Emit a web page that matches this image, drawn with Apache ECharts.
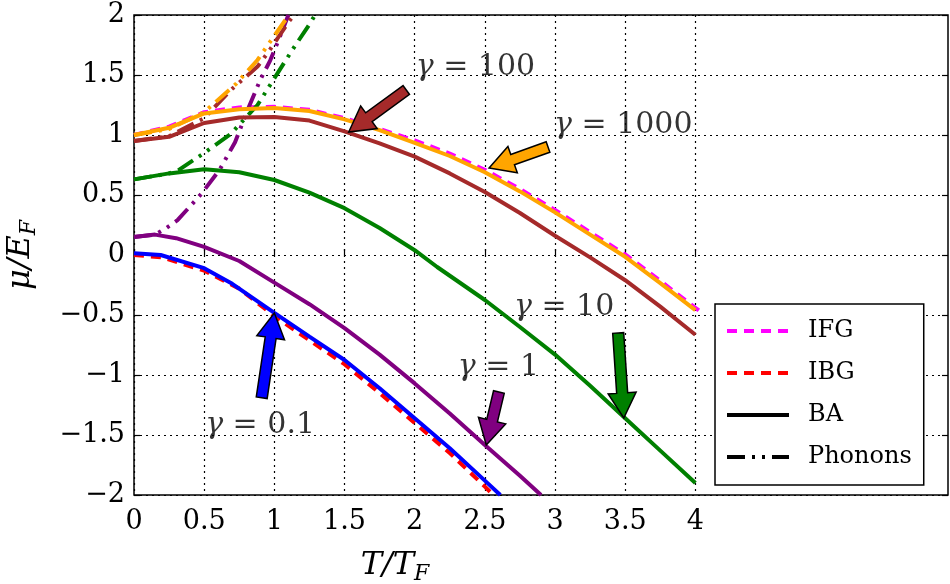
<!DOCTYPE html>
<html>
<head>
<meta charset="utf-8">
<script src="https://cdn.jsdelivr.net/npm/echarts@6/dist/echarts.min.js"></script>
<style>
html, body { margin: 0; padding: 0; background: #fff; }
#chart { width: 950px; height: 584px; }
</style>
</head>
<body>
<div id="chart"></div>
<script>
// tick values
const xTicks = [0, 0.5, 1, 1.5, 2, 2.5, 3, 3.5, 4]
const yTicks = [-2, -1.5, -1, -0.5, 0, 0.5, 1, 1.5, 2]

// ideal gases
const ifg = [[0, 1.0], [0.25, 1.07], [0.5, 1.19], [0.75, 1.23], [1.0, 1.235], [1.25, 1.21], [1.5, 1.14], [1.75, 1.05], [2.0, 0.955], [2.25, 0.845], [2.5, 0.71], [2.75, 0.55], [3.0, 0.375], [3.25, 0.19], [3.5, 0.005], [3.75, -0.215], [4.0, -0.44], [4.05, -0.485]]
const ibg = [[0, 0.0], [0.2, -0.02], [0.5, -0.13], [0.75, -0.28], [1.0, -0.51], [1.25, -0.71], [1.5, -0.91], [1.75, -1.15], [2.0, -1.4], [2.25, -1.65], [2.5, -1.93], [2.56, -2.0]]

// BA curves, one per gamma
const ba01 = [[0, 0.015], [0.19, 0.0], [0.5, -0.11], [0.7, -0.24], [1.0, -0.483], [1.25, -0.68], [1.5, -0.875], [1.75, -1.11], [2.0, -1.36], [2.25, -1.61], [2.5, -1.88], [2.61, -2.0]]
const ba1 = [[0, 0.15], [0.15, 0.17], [0.3, 0.14], [0.5, 0.067], [0.75, -0.05], [1.0, -0.23], [1.25, -0.41], [1.5, -0.61], [1.75, -0.83], [2.0, -1.07], [2.25, -1.32], [2.5, -1.583], [2.75, -1.84], [2.9, -2.0]]
const ba10 = [[0, 0.63], [0.25, 0.68], [0.5, 0.715], [0.75, 0.69], [1.0, 0.625], [1.25, 0.52], [1.5, 0.39], [1.75, 0.225], [2.0, 0.04], [2.16, -0.1], [2.5, -0.375], [2.75, -0.6], [3.0, -0.83], [3.25, -1.09], [3.5, -1.36], [3.75, -1.63], [4.0, -1.9]]
const ba100 = [[0, 0.95], [0.25, 0.985], [0.5, 1.1], [0.75, 1.145], [1.0, 1.15], [1.25, 1.12], [1.5, 1.03], [1.75, 0.93], [2.0, 0.82], [2.25, 0.68], [2.5, 0.525], [2.75, 0.35], [3.0, 0.16], [3.25, -0.02], [3.5, -0.21], [3.75, -0.43], [4.0, -0.665]]
const ba1000 = [[0, 1.0], [0.25, 1.06], [0.5, 1.18], [0.75, 1.215], [1.0, 1.225], [1.25, 1.2], [1.5, 1.13], [1.75, 1.04], [2.0, 0.935], [2.25, 0.825], [2.5, 0.69], [2.75, 0.53], [3.0, 0.355], [3.25, 0.17], [3.5, -0.015], [3.75, -0.235], [4.0, -0.46]]

// phonon approximations
const ph1 = [[0, 0.15], [0.15, 0.17], [0.23, 0.225], [0.31, 0.29], [0.48, 0.51], [0.61, 0.71], [0.72, 0.94], [0.81, 1.21], [0.9, 1.46], [0.97, 1.62], [1.04, 1.82], [1.1, 2.0]]
const ph10 = [[0, 0.63], [0.25, 0.68], [0.32, 0.71], [0.5, 0.85], [0.69, 1.01], [0.88, 1.25], [1.02, 1.51], [1.14, 1.73], [1.26, 1.94], [1.29, 2.0]]
const ph100 = [[0, 0.95], [0.25, 0.99], [0.5, 1.14], [0.69, 1.375], [0.88, 1.57], [0.95, 1.68], [1.02, 1.8], [1.1, 1.94], [1.14, 2.0]]
const ph1000 = [[0, 1.0], [0.25, 1.05], [0.5, 1.19], [0.73, 1.43], [0.88, 1.625], [0.99, 1.81], [1.08, 1.96], [1.1, 2.0]]

// annotations: [x, y, label] (label left edge, vertically centred)
const gammaLabels = [[2.007, 1.567, '100'], [2.993, 1.083, '1000'], [2.707, -0.433, '10'], [2.307, -0.933, '1'], [0.507, -1.417, '0.1']]
// arrows: [tailX, tailY, tipX, tipY]
const arrows = [[1.94, 1.375, 1.53, 1.025], [2.95, 0.9, 2.53, 0.725], [0.91, -1.19, 1.0, -0.483], [2.6, -1.142, 2.51, -1.583], [3.45, -0.65, 3.49, -1.358]]
const arrowColors = ['#a52a2a', '#ffa500', '#0000ff', '#800080', '#008000']

const FONT = 'DejaVu Serif'
const phononDash = [18, 7, 3, 7, 3, 7]

const chart = echarts.init(document.getElementById('chart'))

const fmt = v => String(v).replace('-', '\u2212')

const lineSeries = (name, data, color, type, z) => ({
  name,
  type: 'line',
  data,
  symbol: 'none',
  smooth: false,
  z: z || 2,
  lineStyle: { color, width: 4, type, cap: 'butt' },
  itemStyle: { color }
})

const arrowShape = (params, api) => {
  const tail = api.coord([api.value(0), api.value(1)])
  const tip = api.coord([api.value(2), api.value(3)])
  const dx = tip[0] - tail[0]
  const dy = tip[1] - tail[1]
  const len = Math.sqrt(dx * dx + dy * dy)
  const ux = dx / len, uy = dy / len
  const nx = -uy, ny = ux
  const w = 5.5, hw = 14, hl = 25
  const bx = tip[0] - ux * hl, by = tip[1] - uy * hl
  const points = [
    [tail[0] + nx * w, tail[1] + ny * w],
    [bx + nx * w, by + ny * w],
    [bx + nx * hw, by + ny * hw],
    tip,
    [bx - nx * hw, by - ny * hw],
    [bx - nx * w, by - ny * w],
    [tail[0] - nx * w, tail[1] - ny * w]
  ]
  return {
    type: 'polygon',
    shape: { points },
    style: { fill: arrowColors[params.dataIndex], stroke: '#000', lineWidth: 1.5 }
  }
}

const option = {
  animation: false,
  backgroundColor: '#fff',
  grid: {
    left: 134,
    right: 2,
    top: 15,
    bottom: 89,
    outerBoundsMode: 'none',
    containLabel: false,
    show: true,
    borderColor: '#000',
    borderWidth: 1.5
  },
  legend: {
    data: ['IFG', 'IBG', 'BA', 'Phonons'],
    orient: 'vertical',
    left: 715,
    top: 304,
    itemWidth: 62,
    itemHeight: 14,
    itemGap: 14,
    padding: [13, 12, 14, 10],
    backgroundColor: '#fff',
    borderColor: '#000',
    borderWidth: 1.5,
    borderRadius: 0,
    selectedMode: false,
    itemStyle: { color: 'rgba(0,0,0,0)', borderWidth: 0 },
    lineStyle: { width: 4 },
    textStyle: { fontFamily: FONT, fontSize: 24, color: '#000', lineHeight: 28, padding: [0, 0, 0, 14] }
  },
  xAxis: {
    type: 'value',
    min: 0,
    max: 5.8,
    interval: 0.5,
    name: '{a|T/T}{b|F}',
    nameLocation: 'middle',
    nameGap: 52,
    nameTextStyle: {
      padding: [0, 292, 0, 0],
      rich: {
        a: { fontFamily: FONT, fontStyle: 'italic', fontSize: 32, color: '#000' },
        b: { fontFamily: FONT, fontStyle: 'italic', fontSize: 22, color: '#000', padding: [16, 0, 0, 0] }
      }
    },
    axisLine: { show: false },
    axisTick: { inside: true, length: 6, customValues: xTicks, lineStyle: { color: '#000', width: 1.2 } },
    axisLabel: { customValues: xTicks, margin: 13, fontFamily: FONT, fontSize: 27, color: '#000', formatter: fmt },
    splitLine: { show: true, lineStyle: { color: '#000', width: 1.2, type: [2, 4] } }
  },
  yAxis: [{
    type: 'value',
    min: -2,
    max: 2,
    interval: 0.5,
    name: '{a|\u03bc/E}{b|F}',
    nameLocation: 'middle',
    nameGap: 94,
    nameTextStyle: {
      rich: {
        a: { fontFamily: FONT, fontStyle: 'italic', fontSize: 32, color: '#000' },
        b: { fontFamily: FONT, fontStyle: 'italic', fontSize: 22, color: '#000', padding: [16, 0, 0, 0] }
      }
    },
    axisLine: { show: false },
    axisTick: { inside: true, length: 6, lineStyle: { color: '#000', width: 1.2 } },
    axisLabel: { margin: 9, fontFamily: FONT, fontSize: 27, color: '#000', formatter: fmt },
    splitLine: { show: true, lineStyle: { color: '#000', width: 1.2, type: [2, 4] } }
  }, {
    type: 'value',
    position: 'right',
    min: -2,
    max: 2,
    interval: 0.5,
    axisLine: { show: false },
    axisTick: { inside: true, length: 6, lineStyle: { color: '#000', width: 1.2 } },
    axisLabel: { show: false },
    splitLine: { show: false }
  }],
  series: [
    lineSeries('IFG', ifg, '#ff00ff', [10, 7], 2),
    lineSeries('IBG', ibg, '#ff0000', [10, 7], 2),
    lineSeries('BA', [], '#000', 'solid'),
    lineSeries('Phonons', [], '#000', phononDash),
    lineSeries('ph1', ph1, '#800080', phononDash, 3),
    lineSeries('ph10', ph10, '#008000', phononDash, 3),
    lineSeries('ph100', ph100, '#a52a2a', phononDash, 3),
    lineSeries('ph1000', ph1000, '#ffa500', phononDash, 3),
    lineSeries('ba0.1', ba01, '#0000ff', 'solid', 4),
    lineSeries('ba1', ba1, '#800080', 'solid', 4),
    lineSeries('ba10', ba10, '#008000', 'solid', 4),
    lineSeries('ba100', ba100, '#a52a2a', 'solid', 4),
    lineSeries('ba1000', ba1000, '#ffa500', 'solid', 4),
    {
      name: 'arrows',
      type: 'custom',
      renderItem: arrowShape,
      data: arrows,
      encode: { x: [0, 2], y: [1, 3] },
      z: 10,
      silent: true
    },
    {
      name: 'labels',
      type: 'scatter',
      data: gammaLabels,
      symbolSize: 0,
      z: 11,
      silent: true,
      label: {
        show: true,
        position: 'right',
        distance: 0,
        formatter: p => '{g|\u03b3} = ' + p.data[2],
        fontFamily: FONT,
        fontSize: 30,
        color: '#000',
        rich: {
          g: { fontFamily: FONT, fontStyle: 'italic', fontSize: 30, color: '#000' }
        }
      }
    }
  ]
}

chart.setOption(option)
</script>
</body>
</html>
